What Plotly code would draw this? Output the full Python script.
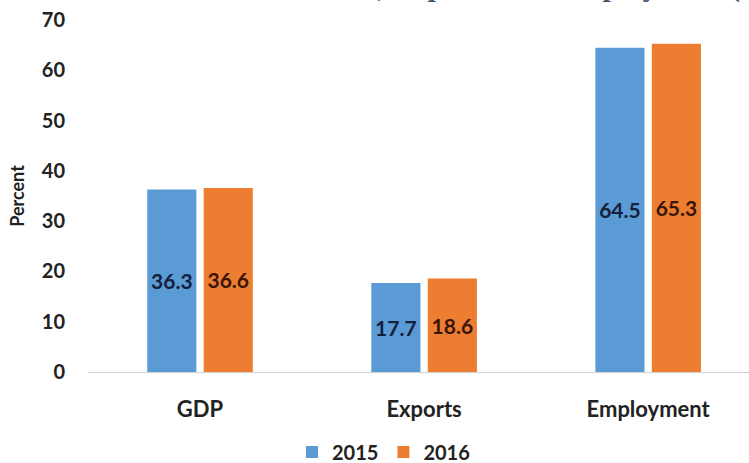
import plotly.graph_objects as go

# Shares of GDP, exports and employment
categories = ["GDP", "Exports", "Employment"]
years = ["2015", "2016"]
values_2015 = [36.3, 17.7, 64.5]
values_2016 = [36.6, 18.6, 65.3]
y_ticks = [0, 10, 20, 30, 40, 50, 60, 70]

FONT = "Lato"
BLUE = "#5B9BD5"
ORANGE = "#ED7D31"

fig = go.Figure()
for name, vals, color, tcolor in [
    (years[0], values_2015, BLUE, "#15203a"),
    (years[1], values_2016, ORANGE, "#3a1608"),
]:
    fig.add_trace(go.Bar(
        name=name,
        x=categories,
        y=vals,
        marker=dict(color=color, line=dict(width=0)),
        text=[f"{v:.1f}" for v in vals],
        textposition="inside",
        insidetextanchor="middle",
        textangle=0,
        textfont=dict(family=FONT, size=21, color=tcolor, weight="bold"),
        cliponaxis=False,
    ))

fig.update_layout(
    width=749,
    height=463,
    margin=dict(l=88, r=0, t=20, b=91, autoexpand=False),
    paper_bgcolor="white",
    plot_bgcolor="white",
    barmode="group",
    bargap=0.496,
    bargroupgap=0.13,
    showlegend=True,
    legend=dict(
        orientation="h",
        x=(292 - 88) / 661, xanchor="left",
        y=(372 - 452) / 352, yanchor="middle",
        font=dict(family=FONT, size=20, color="#222222", weight="bold"),
        itemwidth=30,
        traceorder="normal",
    ),
    # chart heading, sitting mostly above the top edge of the page
    annotations=[dict(
        text="GDP, Exports and Employment (%)",
        xref="paper", yref="paper",
        x=(315 - 88) / 661, xanchor="left",
        y=1 + (20 - 5) / 352, yanchor="bottom",
        showarrow=False,
        font=dict(family="Liberation Serif", size=30, color="#44546A", weight="bold"),
    )],
)

fig.update_xaxes(
    range=[-0.5, 2.45],
    showgrid=False,
    showline=True,
    linecolor="#d0d0d0",
    linewidth=1,
    ticks="",
    ticklabelstandoff=18,
    tickfont=dict(family=FONT, size=22, color="#222222", weight="bold"),
    zeroline=False,
)
fig.update_yaxes(
    range=[0, 70],
    tickvals=y_ticks,
    showgrid=False,
    showline=False,
    zeroline=False,
    ticks="",
    ticklabelstandoff=22,
    tickfont=dict(family=FONT, size=20, color="#222222", weight="bold"),
    title=dict(text="Percent", font=dict(family=FONT, size=18, color="#222222", weight="bold"), standoff=12),
)

fig.write_html("out.html")
